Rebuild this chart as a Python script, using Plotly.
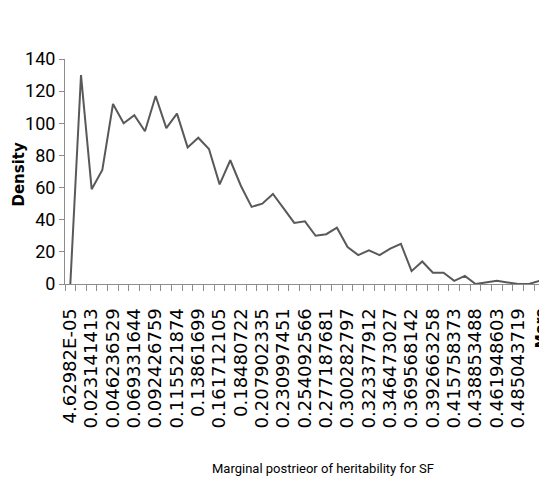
import plotly.graph_objects as go

# Histogram density values (one per bin, last bin = "More")
density = [0, 130, 59, 71, 112, 100, 105, 95, 117, 97, 106, 85, 91, 84, 62, 77,
           61, 48, 50, 56, 47, 38, 39, 30, 31, 35, 23, 18, 21, 18, 22, 25, 8, 14,
           7, 7, 2, 5, 0, 1, 2, 1, 0, 0, 2]

# Labels shown on the x axis (every other bin)
shown_labels = ["4.62982E-05", "0.023141413", "0.046236529", "0.069331644",
                "0.092426759", "0.115521874", "0.13861699", "0.161712105",
                "0.18480722", "0.207902335", "0.230997451", "0.254092566",
                "0.277187681", "0.300282797", "0.323377912", "0.346473027",
                "0.369568142", "0.392663258", "0.415758373", "0.438853488",
                "0.461948603", "0.485043719",
                "<span style='font-size:14px'><b>More</b></span>"]

x_idx = list(range(len(density)))
label_pos = list(range(0, len(density), 2))

narrow_font = "Roboto, Liberation Sans, sans-serif"

# the page body adds an 8px offset; the figure is sized to fill the rest
OFF = 8
W, H = 547 - OFF, 490 - OFF
ML, MR, MT, MB = 65 - OFF, 0, 59 - OFF, 206

fig = go.Figure()
fig.add_trace(go.Scatter(x=x_idx, y=density, mode="lines",
                         line=dict(color="#595959", width=2),
                         showlegend=False, cliponaxis=False))

fig.update_layout(
    width=W, height=H,
    margin=dict(l=ML, r=MR, t=MT, b=MB, autoexpand=False),
    paper_bgcolor="white", plot_bgcolor="white",
    xaxis=dict(
        range=[-0.5, len(density) - 0.3], automargin=False,
        showline=True, linecolor="#8c8c8c", linewidth=1,
        showgrid=False, zeroline=False,
        tickmode="array", tickvals=label_pos, ticktext=shown_labels,
        ticks="", tickangle=-90, ticklabeloverflow="allow",
        tickfont=dict(family="DejaVu Sans", size=18, color="black"),
        ticklabelstandoff=16,
        minor=dict(ticks="outside", tick0=-0.5, dtick=1, ticklen=6,
                   tickcolor="#8c8c8c", tickwidth=1, showgrid=False),
    ),
    yaxis=dict(
        range=[0, 140], dtick=20, automargin=False,
        showline=True, linecolor="#8c8c8c", linewidth=1,
        showgrid=False, zeroline=False,
        ticks="outside", ticklen=5, tickcolor="#8c8c8c",
        tickfont=dict(family=narrow_font, size=18, color="black"),
    ),
)

pw = W - ML - MR
ph = H - MT - MB

def px_to_paper(x, y):
    # x, y in window pixels
    return (x - OFF - ML) / pw, (H - MB - (y - OFF)) / ph

ax, ay = px_to_paper(18, 174.5)
fig.add_annotation(text="Density", textangle=-90, x=ax, y=ay, xref="paper", yref="paper",
                   xanchor="center", yanchor="middle", showarrow=False,
                   font=dict(family="DejaVu Sans", size=15, color="black", weight="bold"))
bx, by = px_to_paper(323, 468)
fig.add_annotation(text="Marginal postrieor of heritability for SF", x=bx, y=by,
                   xref="paper", yref="paper", xanchor="center", yanchor="middle",
                   showarrow=False, font=dict(family=narrow_font, size=13, color="black"))

fig.write_html("out.html")
